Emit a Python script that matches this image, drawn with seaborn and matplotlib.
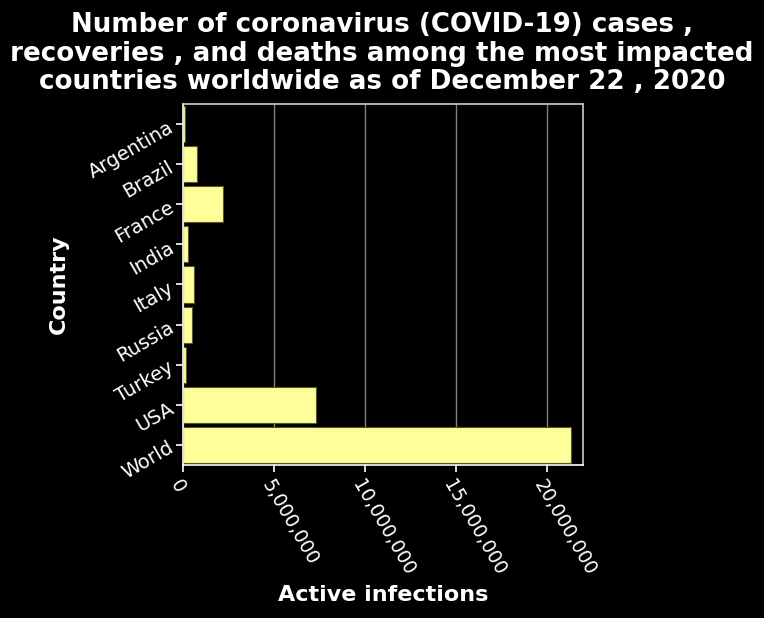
import matplotlib
matplotlib.use("Agg")
import matplotlib.pyplot as plt
import matplotlib.ticker as mticker
import pandas as pd
import seaborn as sb

countries = ["Argentina", "Brazil", "France", "India", "Italy",
             "Russia", "Turkey", "USA", "World"]
active = [110_000, 750_000, 2_200_000, 250_000, 580_000,
          500_000, 160_000, 7_300_000, 21_370_000]

df = pd.DataFrame({"Country": countries, "Active infections": active})

sb.set_theme(style="dark")
plt.rcParams["font.family"] = ["DejaVu Sans"]

fig = plt.figure(figsize=(7.64, 6.18), dpi=100, facecolor="black")
ax = fig.add_axes([0.2395, 0.2476, 0.5235, 0.5841])
ax.set_facecolor("black")

sb.barplot(data=df, y="Country", x="Active infections", orient="h",
           color="#ffff99", saturation=1, width=0.9,
           edgecolor="#5a5a20", linewidth=0.8, ax=ax)

ax.set_xlim(0, 22_000_000)
ax.xaxis.set_major_locator(mticker.MultipleLocator(5_000_000))
ax.xaxis.set_major_formatter(mticker.FuncFormatter(lambda v, p: f"{v:,.0f}"))
ax.grid(axis="x", color="#808080", linewidth=1)
ax.grid(axis="y", visible=False)
ax.set_axisbelow(True)

for side in ["left", "bottom"]:
    ax.spines[side].set_color("white")
    ax.spines[side].set_linewidth(1.2)
for side in ["top", "right"]:
    ax.spines[side].set_visible(True)
    ax.spines[side].set_color("#cccccc")
    ax.spines[side].set_linewidth(1.2)

ax.tick_params(axis="both", colors="white", labelcolor="white",
               length=5, width=1.2, labelsize=14, bottom=True, left=True)
ax.tick_params(axis="x", labelsize=13.5)
plt.setp(ax.get_yticklabels(), rotation=30, ha="right", rotation_mode="anchor")
plt.setp(ax.get_xticklabels(), rotation=-60, ha="left", rotation_mode="anchor")

ax.set_xlabel("Active infections", color="white", fontsize=16,
              fontweight="bold", labelpad=4)
ax.set_ylabel("Country", color="white", fontsize=16, fontweight="bold",
              labelpad=12)
fig.suptitle("Number of coronavirus (COVID-19) cases ,\n"
             "recoveries , and deaths among the most impacted\n"
             "countries worldwide as of December 22 , 2020",
             color="white", fontsize=18.8, fontweight="bold", y=0.98,
             linespacing=1.12)

fig.savefig("out.png", dpi=100, facecolor="black")
